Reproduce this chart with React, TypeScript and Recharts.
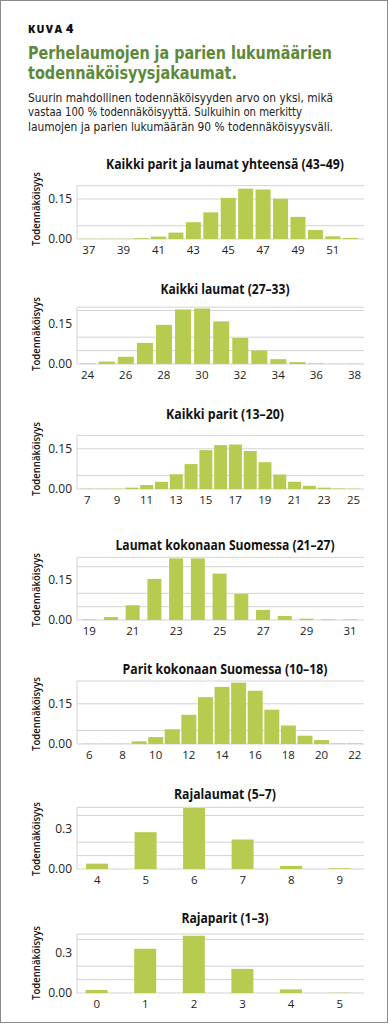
import React from 'react';
import { BarChart, Bar, XAxis, YAxis, CartesianGrid } from 'recharts';

const FONT = '"Open Sans", "Noto Sans", sans-serif';
const NARROW = '"Liberation Sans Narrow", "DejaVu Sans Condensed", "Open Sans", sans-serif';
const BAR_COLOR = '#b6cb50';
const GRID_COLOR = '#d3d3d3';
const TITLE_GREEN = '#5d8a3a';
const TEXT_DARK = '#222';

// Kaikki parit ja laumat yhteensä (43–49)
const totalCats = [37, 38, 39, 40, 41, 42, 43, 44, 45, 46, 47, 48, 49, 50, 51, 52];
const totalValues = [0.001, 0.001, 0.001, 0.003, 0.009, 0.024, 0.063, 0.1, 0.154, 0.189, 0.186, 0.151, 0.083, 0.034, 0.01, 0.004];

// Kaikki laumat (27–33)
const packCats = [24, 25, 26, 27, 28, 29, 30, 31, 32, 33, 34, 35, 36, 37, 38];
const packValues = [0.002, 0.009, 0.027, 0.079, 0.146, 0.203, 0.207, 0.159, 0.097, 0.05, 0.018, 0.007, 0.002, 0.001, 0.001];

// Kaikki parit (13–20)
const pairCats = [7, 8, 9, 10, 11, 12, 13, 14, 15, 16, 17, 18, 19, 20, 21, 22, 23, 24, 25];
const pairValues = [0.001, 0.001, 0.001, 0.005, 0.015, 0.027, 0.055, 0.093, 0.145, 0.164, 0.166, 0.142, 0.1, 0.054, 0.027, 0.012, 0.005, 0.002, 0.001];

// Laumat kokonaan Suomessa (21–27)
const finPackCats = [19, 20, 21, 22, 23, 24, 25, 26, 27, 28, 29, 30, 31];
const finPackValues = [0.002, 0.011, 0.055, 0.154, 0.231, 0.231, 0.174, 0.098, 0.038, 0.015, 0.005, 0.002, 0.002];

// Parit kokonaan Suomessa (10–18)
const finPairCats = [6, 7, 8, 9, 10, 11, 12, 13, 14, 15, 16, 17, 18, 19, 20, 21, 22];
const finPairValues = [0.001, 0.001, 0.001, 0.01, 0.026, 0.055, 0.109, 0.175, 0.213, 0.229, 0.199, 0.128, 0.069, 0.031, 0.015, 0.002, 0.002];

// Rajalaumat (5–7)
const borderPackCats = [4, 5, 6, 7, 8, 9];
const borderPackValues = [0.04, 0.275, 0.455, 0.22, 0.023, 0.005];

// Rajaparit (1–3)
const borderPairCats = [0, 1, 2, 3, 4, 5];
const borderPairValues = [0.022, 0.33, 0.428, 0.18, 0.027, 0.002];

const smallTicks = [0, 0.05, 0.1, 0.15];
const smallTicksTop = [0, 0.05, 0.1, 0.15, 0.2];
const bigTicks = [0, 0.1, 0.2, 0.3, 0.4];
const smallTickLabels = ['0.00', '0.15'];
const bigTickLabels = ['0.00', '0.3'];

const charts = [
  { title: 'Kaikki parit ja laumat yhteensä (43–49)', titleW: 238, cats: totalCats, values: totalValues, ticks: smallTicks, labels: smallTickLabels, labelAt: [0, 0.15], top: 0.2, ppu: 266.7, zeroY: 239, gap: '7%', pad: { left: 3, right: 5 }, interval: 1 },
  { title: 'Kaikki laumat (27–33)', titleW: 129, cats: packCats, values: packValues, ticks: smallTicksTop, labels: smallTickLabels, labelAt: [0, 0.15], top: 0.212, ppu: 268, zeroY: 364, gap: '9%', pad: { left: 1, right: 0 }, interval: 1 },
  { title: 'Kaikki parit (13–20)', titleW: 118, cats: pairCats, values: pairValues, ticks: smallTicks, labels: smallTickLabels, labelAt: [0, 0.15], top: 0.2, ppu: 268, zeroY: 489, gap: '7%', pad: { left: 3, right: 3 }, interval: 1 },
  { title: 'Laumat kokonaan Suomessa (21–27)', titleW: 219, cats: finPackCats, values: finPackValues, ticks: smallTicksTop, labels: smallTickLabels, labelAt: [0, 0.15], top: 0.235, ppu: 266.7, zeroY: 620, gap: '17%', pad: { left: 1.5, right: 3 }, interval: 1 },
  { title: 'Parit kokonaan Suomessa (10–18)', titleW: 205, cats: finPairCats, values: finPairValues, ticks: smallTicks, labels: smallTickLabels, labelAt: [0, 0.15], top: 0.235, ppu: 268, zeroY: 743.7, gap: '5%', pad: { left: 4, right: 1 }, interval: 1 },
  { title: 'Rajalaumat (5–7)', titleW: 102, cats: borderPackCats, values: borderPackValues, ticks: bigTicks, labels: bigTickLabels, labelAt: [0, 0.3], top: 0.46, ppu: 134, zeroY: 869.3, gap: '27%', pad: { left: -4, right: 0 }, interval: 0 },
  { title: 'Rajaparit (1–3)', titleW: 87, cats: borderPairCats, values: borderPairValues, ticks: bigTicks, labels: bigTickLabels, labelAt: [0, 0.3], top: 0.44, ppu: 134, zeroY: 993, gap: '27%', pad: { left: -4.5, right: 0 }, interval: 0 },
];

const BLOCK_H = 105;
const ZERO_IN_BLOCK = 85;

const ChartBlock = ({ cfg }: { cfg: typeof charts[number] }) => {
  const data = cfg.cats.map((c, i) => ({ cat: String(c), value: cfg.values[i] }));
  const marginTop = ZERO_IN_BLOCK - cfg.top * cfg.ppu;
  const fmt = (v: number) => {
    const idx = cfg.labelAt.findIndex(t => Math.abs(t - v) < 1e-6);
    return idx >= 0 ? cfg.labels[idx] : '';
  };

  return (
    <div style={{ position: 'absolute', left: 0, top: cfg.zeroY - ZERO_IN_BLOCK, width: 388, height: BLOCK_H }}>
      <BarChart width={388} height={BLOCK_H} data={data} barCategoryGap={cfg.gap}
        margin={{ top: marginTop, right: 24, bottom: 0, left: 0 }}>
        <CartesianGrid vertical={false} stroke={GRID_COLOR} />
        <XAxis dataKey="cat" height={20} interval={cfg.interval} axisLine={false} tickLine={false}
          tickSize={5} tickMargin={2} padding={cfg.pad}
          tick={{ fontSize: 11.5, fill: TEXT_DARK, fontFamily: FONT }} />
        <YAxis width={77} domain={[0, cfg.top]} ticks={cfg.ticks} tickFormatter={fmt}
          axisLine={{ stroke: GRID_COLOR }} tickLine={false} tickSize={0} tickMargin={5}
          tick={{ fontSize: 12, fill: TEXT_DARK, fontFamily: FONT }} />
        <Bar dataKey="value" fill={BAR_COLOR} isAnimationActive={false} />
      </BarChart>
      <svg width={388} height={BLOCK_H} style={{ position: 'absolute', left: 0, top: 0, pointerEvents: 'none' }}>
        <text x={225} y={14.5} textAnchor="middle" fontFamily={FONT} fontWeight={700} fontSize={14}
          fill="#111" textLength={cfg.titleW} lengthAdjust="spacingAndGlyphs">{cfg.title}</text>
        <text transform={`translate(39.5, ${ZERO_IN_BLOCK - 30}) rotate(-90)`} textAnchor="middle"
          fontFamily={FONT} fontWeight={600} fontSize={11.5} fill="#111"
          textLength={74} lengthAdjust="spacingAndGlyphs">Todennäköisyys</text>
      </svg>
    </div>
  );
};

export default function App() {
  return (
    <div style={{ position: 'absolute', left: 0, top: 0, width: 388, height: 1024, background: '#fff', fontFamily: FONT }}>
      <div style={{ position: 'absolute', left: 0, top: 0, width: 388, height: 1023, boxSizing: 'border-box', border: '1.5px solid #8a8a8a' }} />
      <svg width={388} height={140} style={{ position: 'absolute', left: 0, top: 0 }}>
        <text x={28} y={33} fontFamily={FONT} fontWeight={800} fontSize={10.5} fill="#111"
          textLength={34} lengthAdjust="spacing">KUVA</text>
        <text x={66} y={33} fontFamily={FONT} fontWeight={800} fontSize={12.5} fill="#111">4</text>
        <text x={28} y={59} fontFamily={NARROW} fontWeight={700} fontSize={18} fill={TITLE_GREEN}
          textLength={304} lengthAdjust="spacingAndGlyphs">Perhelaumojen ja parien lukumäärien</text>
        <text x={28} y={79} fontFamily={NARROW} fontWeight={700} fontSize={18} fill={TITLE_GREEN}
          textLength={209} lengthAdjust="spacingAndGlyphs">todennäköisyysjakaumat.</text>
        <text x={28} y={101.5} fontFamily={NARROW} fontSize={12.8} fill={TEXT_DARK}
          textLength={305} lengthAdjust="spacingAndGlyphs">Suurin mahdollinen todennäköisyyden arvo on yksi, mikä</text>
        <text x={28} y={116} fontFamily={NARROW} fontSize={12.8} fill={TEXT_DARK}
          textLength={274} lengthAdjust="spacingAndGlyphs">vastaa 100 % todennäköisyyttä. Sulkuihin on merkitty</text>
        <text x={28} y={130.5} fontFamily={NARROW} fontSize={12.8} fill={TEXT_DARK}
          textLength={305} lengthAdjust="spacingAndGlyphs">laumojen ja parien lukumäärän 90 % todennäköisyysväli.</text>
      </svg>
      {charts.map(cfg => <ChartBlock key={cfg.title} cfg={cfg} />)}
    </div>
  );
}
